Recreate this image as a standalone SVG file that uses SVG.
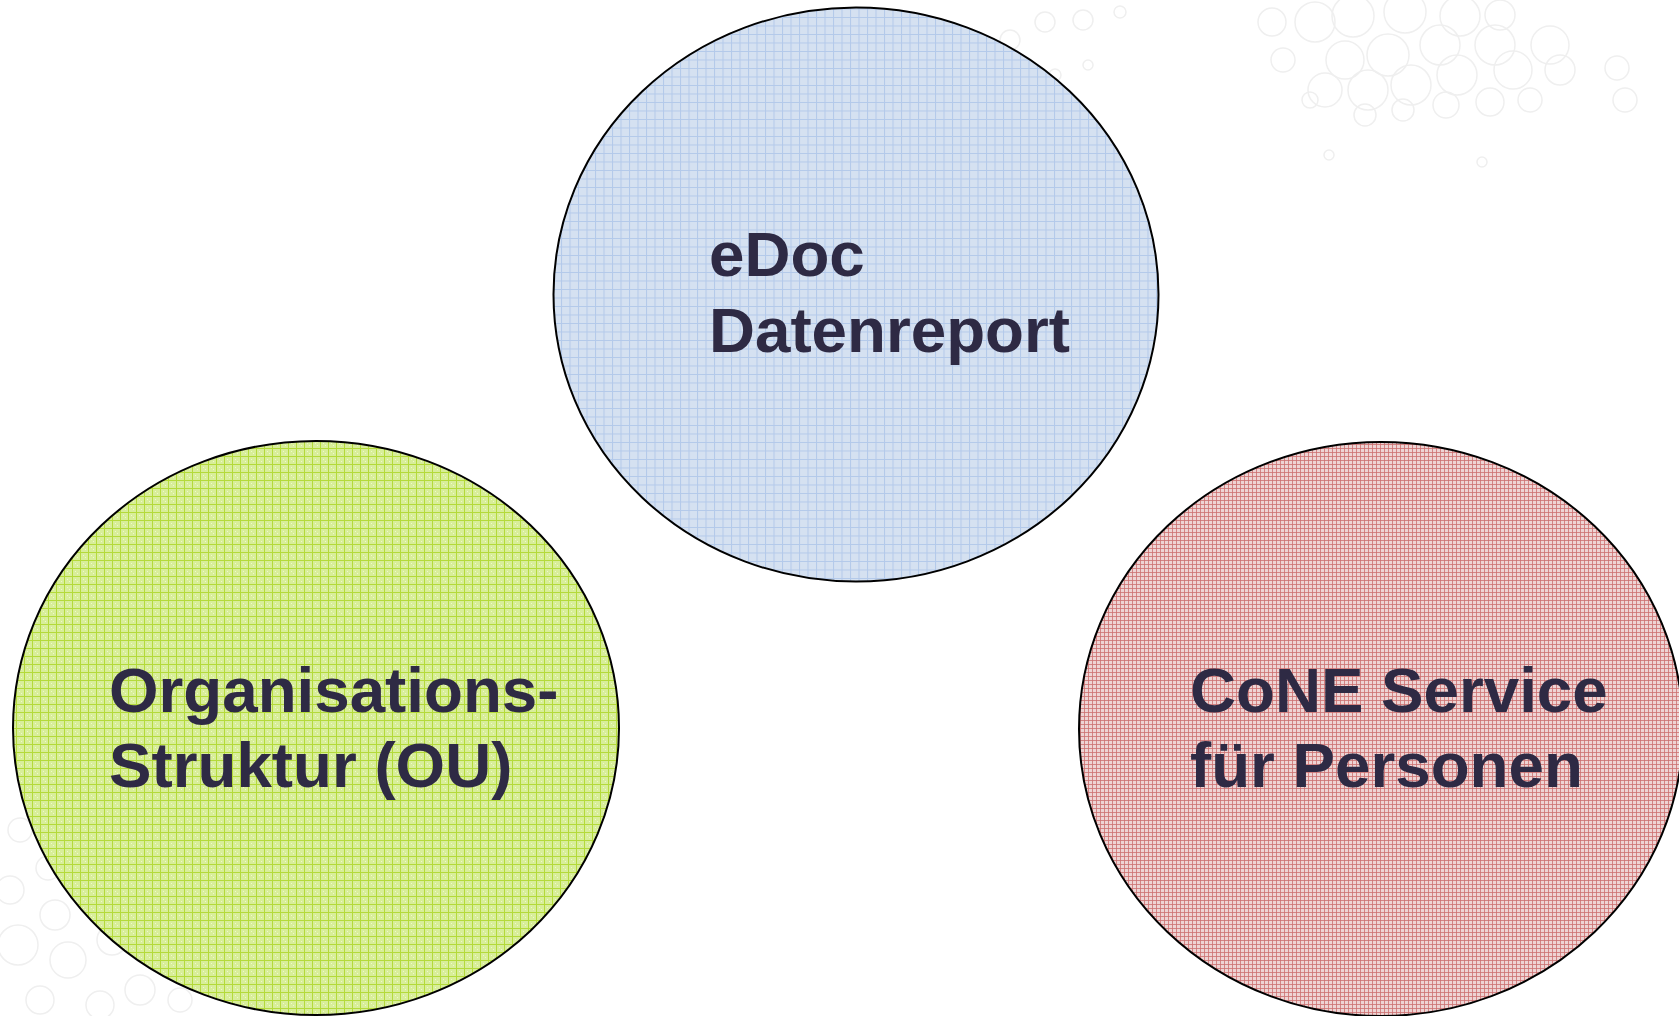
<svg xmlns="http://www.w3.org/2000/svg" width="1679" height="1016" viewBox="0 0 1679 1016">
<defs>
<pattern id="pBlue" width="8.5" height="8.5" patternUnits="userSpaceOnUse">
<rect width="8.5" height="8.5" fill="#d5e1f1"/>
<path d="M0 0.5H8.5M0.5 0V8.5" stroke="#b3c9ea" stroke-width="1"/>
</pattern>
<pattern id="pGreen" width="8" height="8" patternUnits="userSpaceOnUse">
<rect width="8" height="8" fill="#d8ee99"/>
<path d="M0 0.5H8M0.5 0V8" stroke="#b4da3a" stroke-width="1"/>
<rect x="3" y="3" width="1" height="1" fill="#eef8cc"/><rect x="5" y="5" width="1" height="1" fill="#eef8cc"/>
</pattern>
<pattern id="pRed" width="4" height="4" patternUnits="userSpaceOnUse">
<rect width="4" height="4" fill="#eed4d4"/>
<path d="M0 0.5H4M0.5 0V4" stroke="#cc7070" stroke-width="0.8"/>
</pattern>
</defs>
<style>
.node ellipse{stroke:#000;stroke-width:2}
.lbl{font-family:"Liberation Sans",Arial,sans-serif;font-weight:bold;font-size:63.7px;fill:#2e2a44}
.bub{fill:none;stroke:#efefef;stroke-width:1.5}
</style>
<rect width="1679" height="1016" fill="#ffffff"/>
<g id="bubbles">
<circle class="bub" cx="1272" cy="22" r="14"/>
<circle class="bub" cx="1315" cy="22" r="20"/>
<circle class="bub" cx="1353" cy="16" r="21"/>
<circle class="bub" cx="1405" cy="12" r="21"/>
<circle class="bub" cx="1460" cy="16" r="20"/>
<circle class="bub" cx="1500" cy="15" r="15"/>
<circle class="bub" cx="1283" cy="60" r="12"/>
<circle class="bub" cx="1345" cy="60" r="19"/>
<circle class="bub" cx="1388" cy="55" r="21"/>
<circle class="bub" cx="1440" cy="45" r="20"/>
<circle class="bub" cx="1495" cy="45" r="20"/>
<circle class="bub" cx="1550" cy="45" r="19"/>
<circle class="bub" cx="1325" cy="90" r="17"/>
<circle class="bub" cx="1368" cy="90" r="20"/>
<circle class="bub" cx="1411" cy="85" r="20"/>
<circle class="bub" cx="1457" cy="75" r="20"/>
<circle class="bub" cx="1513" cy="70" r="19"/>
<circle class="bub" cx="1560" cy="70" r="15"/>
<circle class="bub" cx="1310" cy="100" r="8"/>
<circle class="bub" cx="1365" cy="115" r="11"/>
<circle class="bub" cx="1403" cy="110" r="11"/>
<circle class="bub" cx="1446" cy="105" r="13"/>
<circle class="bub" cx="1490" cy="102" r="14"/>
<circle class="bub" cx="1530" cy="100" r="12"/>
<circle class="bub" cx="1625" cy="100" r="12"/>
<circle class="bub" cx="1329" cy="155" r="5"/>
<circle class="bub" cx="1482" cy="162" r="5"/>
<circle class="bub" cx="1617" cy="68" r="12"/>
<circle class="bub" cx="1045" cy="22" r="10"/>
<circle class="bub" cx="1083" cy="20" r="10"/>
<circle class="bub" cx="1120" cy="12" r="6"/>
<circle class="bub" cx="1088" cy="65" r="5"/>
<circle class="bub" cx="1055" cy="75" r="6"/>
<circle class="bub" cx="1010" cy="40" r="10"/>
<circle class="bub" cx="10" cy="890" r="14"/>
<circle class="bub" cx="48" cy="868" r="12"/>
<circle class="bub" cx="55" cy="915" r="15"/>
<circle class="bub" cx="18" cy="945" r="20"/>
<circle class="bub" cx="68" cy="960" r="18"/>
<circle class="bub" cx="112" cy="940" r="15"/>
<circle class="bub" cx="140" cy="990" r="15"/>
<circle class="bub" cx="100" cy="1005" r="14"/>
<circle class="bub" cx="40" cy="1000" r="14"/>
<circle class="bub" cx="180" cy="1000" r="12"/>
<circle class="bub" cx="20" cy="830" r="12"/>
</g>
<g id="node-edoc" class="node">
<ellipse cx="856" cy="294.5" rx="302.5" ry="287" fill="url(#pBlue)"/>
<text class="lbl" x="709" y="276">eDoc</text>
<text class="lbl" x="709" y="352">Datenreport</text>
</g>
<g id="node-ou" class="node">
<ellipse cx="316" cy="728" rx="303" ry="287" fill="url(#pGreen)"/>
<text class="lbl" x="109" y="712">Organisations-</text>
<text class="lbl" x="109" y="787">Struktur (OU)</text>
</g>
<g id="node-cone" class="node">
<ellipse cx="1381" cy="729" rx="302" ry="287" fill="url(#pRed)"/>
<text class="lbl" x="1190" y="712">CoNE Service</text>
<text class="lbl" x="1190" y="787">für Personen</text>
</g>
<g id="connectors"></g>
</svg>
